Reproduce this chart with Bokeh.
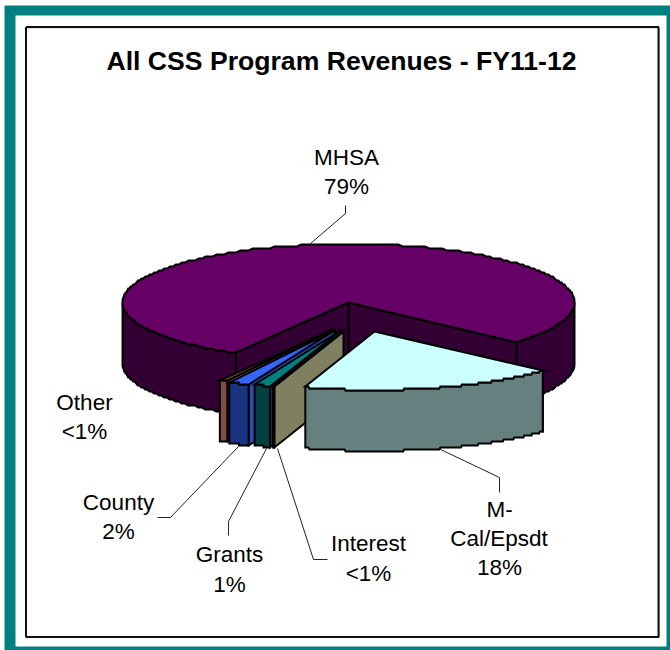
import numpy as np
from bokeh.plotting import figure
from bokeh.models import Range1d
from bokeh.core.properties import value
from bokeh.embed import file_html
from bokeh.resources import INLINE

categories = ["MHSA", "M-Cal/Epsdt", "Interest", "Grants", "County", "Other"]
shares = [78.25, 18.3, 0.1, 1.15, 1.5, 0.6]
top_colors = ["#660066", "#ccffff", "#808060", "#008080", "#3366ff", "#a85c5c"]
rim_colors = ["#330033", "#668080", "#404030", "#004040", "#1a3380", "#804d4d"]
cut_colors = ["#330033", "#668080", "#808060", "#003c5c", "#2a50b8", "#996666"]
centers_x = [348, 374, 343, 340, 334, 332]
centers_y = [302, 331, 331, 330, 330, 329]
draw_order = [0, 5, 4, 3, 2, 1]

RX, RY, DEPTH = 226, 58.5, 61
START = 209.9
STEP = 2.0

p = figure(width=670, height=650, x_range=Range1d(0, 670), y_range=Range1d(650, 0),
           x_axis_type=None, y_axis_type=None, toolbar_location=None,
           output_backend="svg", min_border=0, outline_line_color=None,
           background_fill_color="white", border_fill_color="white")
p.grid.visible = False

# frame
p.patch([4, 670, 670, 4], [5, 5, 650, 650], fill_color="#008080", line_color=None)
p.patch([15, 666, 666, 15], [15, 15, 646, 646], fill_color="white", line_color=None)
p.line([26, 659, 659, 26, 26], [27.5, 27.5, 637, 637, 27.5], line_color="#bbbbbb", line_width=1)
p.line([25.5, 658, 658, 25.5, 25.5], [26.5, 26.5, 636.5, 636.5, 26.5], line_color="#111111", line_width=2)


def rim(cx, cy, t):
    r = np.radians(t)
    return cx + RX * np.sin(r), np.round((cy - RY * np.cos(r)) / STEP) * STEP


total = sum(shares)
angles = [START]
for s in shares:
    angles.append(angles[-1] + 360 * s / total)
bounds = [(angles[i], angles[i + 1]) for i in range(len(shares))]


def face(xs, ys, color):
    p.patch(list(xs), list(ys), fill_color=color, line_color="black", line_width=2,
            line_join="miter")


for i in draw_order:
    t0, t1 = bounds[i]
    cx, cy = centers_x[i], centers_y[i]
    tt = np.linspace(t0, t1, 240)
    X, Y = rim(cx, cy, tt)
    sx, sy = X[0], Y[0]
    ex, ey = X[-1], Y[-1]
    if i == 0:
        face([cx, ex, ex, cx], [cy, ey, ey + DEPTH, cy + DEPTH], cut_colors[i])
    face([cx, sx, sx, cx], [cy, sy, sy + DEPTH, cy + DEPTH], cut_colors[i])
    m = (np.mod(tt, 360) >= 90) & (np.mod(tt, 360) <= 270)
    idx = np.where(m)[0]
    if len(idx):
        splits = np.split(idx, np.where(np.diff(idx) > 1)[0] + 1)
        for part in splits:
            face(np.r_[X[part], X[part][::-1]], np.r_[Y[part], Y[part][::-1] + DEPTH], rim_colors[i])
    face(np.r_[cx, X], np.r_[cy, Y], top_colors[i])

lead_x = [[345, 345, 310], [157, 170, 238], [228, 228, 266], [327, 313, 277], [438, 499, 499]]
lead_y = [[205, 213, 243], [517, 517, 446], [535, 521, 448], [559, 559, 448], [448, 477, 492]]
p.multi_line(lead_x, lead_y, line_color="#222222", line_width=1)

label_text = ["MHSA", "79%", "Other", "<1%", "County", "2%", "Grants", "1%", "Interest", "<1%", "M-", "Cal/Epsdt", "18%"]
label_x = [346, 346, 84, 84, 118, 118, 229, 229, 368, 368, 499, 498.5, 499]
label_y = [157, 186, 402, 431, 502, 531, 554, 584, 543, 573, 509, 538, 567]
p.text(label_x, label_y, text=label_text, text_font=value("Liberation Sans"),
       text_font_size="22.5px", text_align="center", text_baseline="middle", text_color="black")
p.text([341], [60], text=["All CSS Program Revenues - FY11-12"], text_font=value("Liberation Sans"),
       text_font_style="bold", text_font_size="26.6px", text_align="center",
       text_baseline="middle", text_color="black")

open("out.html", "w").write(file_html(p, INLINE))
